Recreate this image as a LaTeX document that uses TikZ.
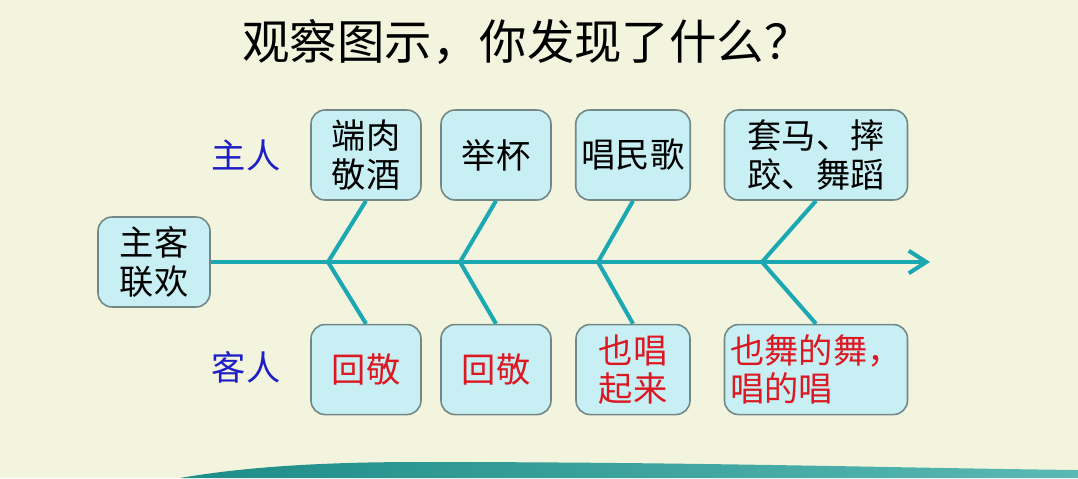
\documentclass[tikz,border=0pt]{standalone}
\usepackage{fontspec}
\usepackage{tikz}
\usetikzlibrary{positioning,arrows.meta}
\newfontfamily\cjk{Noto Sans CJK SC}
\definecolor{bgcream}{RGB}{243,244,221}
\definecolor{boxfill}{RGB}{200,240,244}
\definecolor{boxline}{RGB}{115,135,135}
\definecolor{spine}{RGB}{28,168,178}
\definecolor{sideblue}{RGB}{30,30,200}
\definecolor{guestred}{RGB}{220,25,35}
\definecolor{wavedark}{RGB}{30,140,135}
\definecolor{wavelight}{RGB}{90,185,180}
\tikzset{
  item/.style={rectangle,draw=boxline,fill=boxfill,line width=0.9pt,rounded corners=8pt,align=center,minimum width=2.2cm,minimum height=1.8cm,font=\cjk\fontsize{19.5}{22}\selectfont},
  wideitem/.style={item,minimum width=3.66cm},
  side/.style={font=\cjk\fontsize{19.5}{22}\selectfont,text=sideblue},
  bone/.style={draw=spine,line width=2.3pt},
  arrow/.style={bone,-{Straight Barb[length=3.5mm,width=4.5mm]}}
}

\begin{document}
\begin{tikzpicture}[x=0.02cm,y=-0.02cm]
  % background
  \fill[bgcream] (0,0) rectangle (1078,478);
  \useasboundingbox (0,0) rectangle (1078,478);
  \shade[left color=wavedark,right color=wavelight] (180,478) .. controls (250,466) and (330,462) .. (420,462) .. controls (700,462) and (900,468) .. (1078,470) -- (1078,478) -- cycle;

  \node[font=\cjk\fontsize{27}{30}\selectfont] (title) at (527,42) {观察图示，你发现了什么？};

  \node[item,minimum width=2.24cm] (center) at (154,262) {主客\\联欢};

  % host side
  \node[side] (host) at (246,155) {主人};
  \node[item] (top1) at (366,155) {端肉\\敬酒};
  \node[item] (top2) at (496,155) {举杯};
  \node[item,minimum width=2.28cm] (top3) at (633,155) {唱民歌};
  \node[wideitem] (top4) at (816,155) {套马、摔\\跤、舞蹈};

  % guest side
  \node[side] (guest) at (246,367) {客人};
  \node[item,text=guestred,below=2.46cm of top1] (bot1) {回敬};
  \node[item,text=guestred,below=2.46cm of top2] (bot2) {回敬};
  \node[item,text=guestred,minimum width=2.28cm,below=2.46cm of top3] (bot3) {也唱\\起来};
  \node[wideitem,text=guestred,align=left,below=2.46cm of top4] (bot4) {也舞的舞，\\唱的唱};

  \coordinate (j1) at (328,262);
  \coordinate (j2) at (460,262);
  \coordinate (j3) at (598,262);
  \coordinate (j4) at (762,262);
  \coordinate (tip) at (930,262);

  \draw[arrow] (center.east) -- (tip);
  \draw[bone] (top1.south) -- (j1) -- (bot1.north);
  \draw[bone] (top2.south) -- (j2) -- (bot2.north);
  \draw[bone] (top3.south) -- (j3) -- (bot3.north);
  \draw[bone] (top4.south) -- (j4) -- (bot4.north);
\end{tikzpicture}
\end{document}
